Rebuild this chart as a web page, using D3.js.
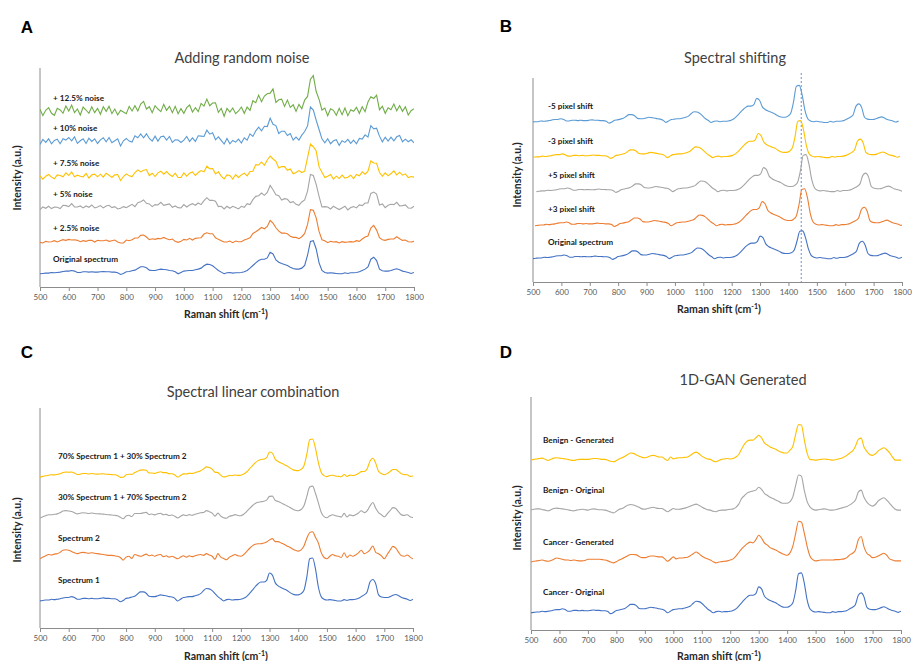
<!DOCTYPE html>
<html>
<head>
<meta charset="utf-8">
<script src="https://cdn.jsdelivr.net/npm/d3@7"></script>
<style>
  body { margin: 0; background: #fff; }
  svg text { font-family: Lato, "Open Sans", sans-serif; }
  .tick text { fill: #595959; font-size: 8px; }
  .tick line, .domain, .yline { stroke: #8c8c8c; stroke-width: 1; }
  .title { font-size: 14.5px; fill: #404040; }
  .axis-title { font-size: 10.5px; font-weight: 700; fill: #262626; }
  .series-label { font-size: 8.2px; font-weight: 700; fill: #1a1a1a; }
  .letter { font-family: "Liberation Sans", Arial, sans-serif; font-size: 17px; font-weight: 700; }
  .spectrum { fill: none; stroke-width: 1.1; }
</style>
</head>
<body>
<svg width="912" height="661"></svg>
<script>
// Raman shift grid (cm-1) and axis ticks
const ramanShift = d3.range(500, 1801, 10);
const xTicks = [500, 600, 700, 800, 900, 1000, 1100, 1200, 1300, 1400, 1500, 1600, 1700, 1800];

// original spectrum (relative intensity, main peak ~1)
const originalSpectrum = [
  -0.02,-0.01,0.00,0.00,0.02,0.01,0.02,0.03,0.05,0.06,
  0.06,0.08,0.06,0.02,0.02,0.04,0.04,0.03,0.04,0.03,
  0.03,0.04,0.05,0.04,0.04,0.03,0.03,0.01,-0.04,-0.01,
  0.04,0.05,0.07,0.09,0.14,0.19,0.19,0.16,0.09,0.08,
  0.08,0.10,0.12,0.11,0.10,0.08,0.07,0.04,-0.02,0.02,
  0.06,0.07,0.08,0.08,0.10,0.12,0.15,0.22,0.27,0.26,
  0.22,0.15,0.08,0.03,-0.02,0.01,0.02,0.00,0.01,0.01,
  0.02,0.04,0.08,0.15,0.23,0.31,0.38,0.42,0.42,0.46,
  0.63,0.58,0.40,0.33,0.29,0.26,0.23,0.18,0.14,0.12,
  0.12,0.15,0.23,0.54,0.96,0.98,0.73,0.31,0.08,0.02,
  0.00,0.01,0.00,-0.01,-0.02,-0.02,0.01,-0.01,0.01,0.01,
  0.02,0.04,0.08,0.12,0.19,0.42,0.48,0.38,0.12,0.07,
  0.06,0.06,0.08,0.11,0.13,0.10,0.06,0.04,0.02,-0.01,
  0.02
];

// panel A: noise (deviation from the original)
const noise2p5 = [
  0.01,-0.02,0.02,0.00,-0.01,0.03,-0.02,0.01,0.02,-0.01,
  0.02,-0.02,0.01,0.03,-0.01,0.00,-0.02,0.02,0.01,-0.03,
  0.02,0.00,-0.01,0.02,-0.02,0.01,0.03,-0.01,0.01,-0.02,
  0.02,-0.01,0.00,0.03,-0.02,0.01,0.02,-0.01,-0.02,0.02,
  0.00,0.01,-0.02,0.03,0.00,-0.01,0.02,-0.02,0.01,0.00,
  0.02,-0.01,0.03,-0.02,0.01,0.00,-0.02,0.02,0.01,-0.01,
  0.03,-0.02,0.00,0.01,0.02,-0.01,0.01,-0.02,0.02,0.00,
  -0.01,0.02,0.01,-0.02,0.03,0.00,-0.01,0.02,-0.02,0.01,
  0.02,-0.01,0.03,0.00,-0.02,0.01,0.02,-0.01,0.00,0.02,
  -0.02,0.01,0.03,-0.01,0.02,-0.02,0.00,0.01,-0.01,0.02,
  -0.02,0.01,0.00,0.02,-0.01,0.03,-0.02,0.01,0.00,-0.01,
  0.02,-0.02,0.01,0.03,-0.01,0.00,0.02,-0.02,0.01,0.00,
  -0.01,0.02,0.01,-0.02,0.03,0.00,-0.01,0.02,-0.01,0.01,
  0.00
];
const noise5 = [
  -0.03,0.04,-0.01,0.05,-0.04,0.02,0.00,-0.05,0.03,0.01,
  -0.02,0.05,-0.03,0.01,0.04,-0.04,0.02,-0.01,0.05,-0.03,
  0.00,0.03,-0.05,0.02,0.04,-0.02,0.01,-0.04,0.03,0.05,
  -0.03,0.01,0.04,-0.05,0.02,0.00,0.05,-0.02,0.03,-0.04,
  0.02,-0.01,0.05,-0.03,0.00,0.04,-0.05,0.02,0.03,-0.02,
  0.04,-0.04,0.01,0.05,-0.02,0.03,-0.05,0.00,0.04,-0.03,
  0.01,0.05,-0.04,0.02,-0.01,0.04,-0.03,0.05,0.00,-0.04,
  0.03,-0.02,0.05,-0.05,0.02,0.04,-0.01,0.03,-0.04,0.01,
  0.05,-0.03,0.00,0.04,-0.05,0.02,0.03,-0.02,0.05,-0.01,
  -0.04,0.03,0.01,-0.03,0.05,0.00,-0.02,0.04,-0.05,0.02,
  0.03,-0.04,0.05,0.01,-0.03,0.02,0.04,-0.05,0.00,0.03,
  -0.02,0.05,-0.01,0.03,-0.04,0.02,0.00,0.04,-0.03,0.05,
  -0.05,0.02,0.03,-0.01,0.04,-0.04,0.01,0.05,-0.02,0.00,
  0.03
];
const noise7p5 = [
  0.05,-0.06,0.02,0.07,-0.03,-0.07,0.04,0.01,-0.05,0.06,
  -0.02,0.07,-0.06,0.03,0.00,-0.04,0.06,-0.07,0.02,0.05,
  -0.03,0.04,-0.06,0.07,0.01,-0.05,0.03,0.06,-0.07,0.02,
  0.05,-0.02,-0.06,0.04,0.07,-0.04,0.01,0.06,-0.05,0.03,
  -0.07,0.02,0.05,-0.03,0.06,-0.01,-0.06,0.07,0.00,-0.04,
  0.06,-0.05,0.03,0.07,-0.06,0.01,0.04,-0.07,0.05,-0.02,
  0.03,-0.06,0.07,-0.01,-0.04,0.05,0.02,-0.07,0.06,-0.03,
  0.04,0.07,-0.05,0.01,-0.06,0.06,-0.02,0.03,-0.07,0.05,
  0.00,-0.04,0.07,-0.06,0.02,0.05,-0.03,0.06,-0.05,0.01,
  0.07,-0.02,-0.06,0.04,0.03,-0.07,0.05,-0.01,0.06,-0.04,
  0.02,0.06,-0.07,0.03,-0.03,0.07,-0.05,0.00,0.04,-0.06,
  0.05,-0.01,0.07,-0.04,-0.02,0.06,-0.06,0.03,0.01,-0.05,
  0.06,-0.03,0.02,0.07,-0.07,0.04,-0.01,0.05,-0.04,0.02,
  -0.03
];
const noise10 = [
  -0.06,0.08,-0.02,0.09,-0.08,0.03,0.06,-0.09,0.04,-0.01,
  0.07,-0.05,0.09,-0.07,0.01,0.05,-0.09,0.08,-0.03,0.06,
  -0.08,0.02,0.07,-0.04,0.09,-0.06,0.00,0.08,-0.09,0.04,
  0.06,-0.03,-0.08,0.09,-0.02,0.05,-0.07,0.08,0.01,-0.06,
  0.09,-0.08,0.03,0.06,-0.05,0.08,-0.09,0.02,0.07,-0.04,
  -0.01,0.09,-0.07,0.04,-0.09,0.06,0.02,-0.06,0.08,-0.03,
  0.05,-0.09,0.07,0.01,-0.05,0.09,-0.08,0.04,-0.02,0.07,
  -0.06,0.08,-0.03,0.09,-0.07,0.02,0.06,-0.09,0.05,0.00,
  0.08,-0.05,0.09,-0.08,0.03,0.06,-0.04,0.07,-0.09,0.02,
  -0.07,0.05,0.08,-0.06,0.09,-0.02,-0.08,0.06,0.01,-0.05,
  0.09,-0.07,0.03,0.07,-0.09,0.05,-0.03,0.08,-0.06,0.04,
  -0.08,0.06,0.00,0.09,-0.05,0.07,-0.09,0.03,0.05,-0.07,
  0.08,-0.04,0.06,-0.08,0.02,0.09,-0.06,0.04,-0.02,0.07,
  -0.05
];
const noise12p5 = [
  0.09,-0.11,0.04,0.12,-0.07,-0.12,0.08,0.02,-0.10,0.11,
  -0.04,0.12,-0.09,0.06,-0.12,0.10,0.01,-0.08,0.11,-0.06,
  0.07,-0.12,0.10,-0.03,0.12,-0.09,0.05,-0.11,0.08,0.00,
  -0.10,0.11,-0.05,0.09,-0.12,0.04,0.12,-0.08,0.06,-0.11,
  0.10,-0.02,-0.12,0.11,-0.06,0.08,-0.10,0.12,-0.04,0.07,
  -0.11,0.05,0.12,-0.09,0.02,-0.12,0.10,-0.05,0.11,-0.08,
  0.04,0.12,-0.10,0.07,-0.12,0.09,-0.03,0.11,-0.07,0.01,
  0.12,-0.09,0.06,-0.11,0.10,-0.04,0.12,-0.12,0.05,0.08,
  -0.07,0.11,-0.12,0.03,0.09,-0.10,0.12,-0.05,0.07,-0.11,
  0.10,-0.06,0.12,-0.08,0.02,0.11,-0.12,0.06,-0.03,0.09,
  -0.12,0.08,0.04,-0.10,0.12,-0.07,0.10,-0.11,0.05,0.00,
  0.11,-0.09,0.07,-0.12,0.10,0.03,-0.08,0.12,-0.06,0.09,
  -0.11,0.06,-0.02,0.12,-0.10,0.08,-0.05,0.11,-0.12,0.04,
  0.07
];
const noiseLabels = ["Original spectrum", "+ 2.5% noise", "+ 5% noise", "+ 7.5% noise", "+ 10% noise", "+ 12.5% noise"];
const noiseOffsets = [0, 0.94, 1.97, 2.91, 3.97, 4.88];

// panel B: unshifted trace as drawn there (lower main peak), shifts (cm-1), offsets
const unshiftedSpectrum = [
  -0.02,-0.01,0.00,0.00,0.02,0.01,0.02,0.03,0.05,0.06,
  0.06,0.08,0.06,0.02,0.02,0.04,0.04,0.03,0.04,0.03,
  0.03,0.04,0.05,0.04,0.04,0.03,0.03,0.01,-0.04,-0.01,
  0.04,0.05,0.07,0.09,0.14,0.19,0.19,0.16,0.09,0.08,
  0.08,0.10,0.12,0.11,0.10,0.08,0.07,0.04,-0.02,0.02,
  0.06,0.07,0.08,0.08,0.10,0.12,0.15,0.22,0.27,0.26,
  0.22,0.15,0.08,0.03,-0.02,0.01,0.02,0.00,0.01,0.01,
  0.02,0.04,0.08,0.15,0.23,0.31,0.37,0.40,0.40,0.44,
  0.59,0.55,0.38,0.31,0.27,0.24,0.21,0.17,0.13,0.12,
  0.12,0.14,0.21,0.45,0.72,0.73,0.55,0.25,0.07,0.02,
  0.00,0.01,0.00,-0.01,-0.02,-0.02,0.01,-0.01,0.01,0.01,
  0.02,0.04,0.08,0.12,0.19,0.40,0.45,0.35,0.12,0.07,
  0.06,0.06,0.08,0.11,0.13,0.10,0.06,0.04,0.02,-0.01,
  0.02
];
const shiftLabels = ["Original spectrum", "+3 pixel shift", "+5 pixel shift", "-3 pixel shift", "-5 pixel shift"];
const shiftCm = [0, 7, 12, -7, -12];
const shiftOffsets = [0, 0.89, 1.81, 2.73, 3.68];
const referencePeak = 1445;

// panel C: second spectrum and mixing fractions of spectrum 1
const spectrum2 = [
  -0.02,0.02,0.05,0.08,0.07,0.09,0.10,0.13,0.18,0.19,
  0.18,0.15,0.12,0.10,0.12,0.13,0.12,0.11,0.12,0.11,
  0.10,0.09,0.08,0.07,0.06,0.06,0.05,0.04,0.01,-0.05,
  0.02,0.04,-0.01,0.08,0.06,0.04,0.06,0.09,0.05,0.07,
  0.04,0.07,0.08,0.03,0.05,0.02,0.04,0.01,-0.02,0.02,
  0.05,0.02,0.05,0.03,0.05,0.07,0.08,0.06,0.10,0.07,
  0.04,-0.03,0.10,0.02,-0.01,-0.04,0.02,0.05,0.08,0.05,
  0.04,0.08,0.15,0.22,0.28,0.32,0.33,0.33,0.35,0.37,
  0.42,0.45,0.38,0.38,0.35,0.32,0.28,0.25,0.21,0.18,
  0.16,0.19,0.28,0.46,0.59,0.61,0.48,0.35,0.13,0.01,
  -0.02,0.04,0.08,0.05,0.04,0.01,0.12,0.01,0.07,0.04,
  0.07,0.12,0.18,0.10,0.13,0.19,0.28,0.13,0.10,0.05,
  -0.02,0.08,0.18,0.27,0.23,0.13,0.05,0.04,0.07,0.02,
  -0.02
];
const mixLabels = ["Spectrum 1", "Spectrum 2", "30% Spectrum 1 + 70% Spectrum 2", "70% Spectrum 1 + 30% Spectrum 2"];
const mixFraction1 = [1, 0, 0.3, 0.7];
const mixOffsets = [0, 0.98, 1.93, 2.88];

// panel D: GAN spectra
const cancerGenerated = [
  0.00,0.02,0.03,0.04,0.05,0.03,0.02,0.04,0.07,0.10,
  0.09,0.07,0.05,0.05,0.04,0.05,0.04,0.03,0.03,0.04,
  0.07,0.07,0.07,0.07,0.07,0.06,0.05,0.03,0.00,-0.02,
  0.01,0.05,0.08,0.12,0.16,0.19,0.19,0.18,0.14,0.11,
  0.11,0.13,0.15,0.15,0.14,0.13,0.13,0.08,0.02,0.07,
  0.13,0.08,0.10,0.10,0.11,0.12,0.16,0.21,0.25,0.21,
  0.15,0.11,0.08,0.05,0.01,-0.02,0.00,0.01,0.02,0.03,
  0.05,0.08,0.15,0.24,0.33,0.40,0.46,0.50,0.48,0.56,
  0.67,0.60,0.48,0.43,0.36,0.33,0.30,0.26,0.22,0.19,
  0.17,0.23,0.40,0.72,1.02,1.00,0.73,0.40,0.15,0.06,
  0.03,0.04,0.05,0.05,0.05,0.05,0.05,0.06,0.06,0.07,
  0.08,0.11,0.18,0.22,0.30,0.56,0.64,0.38,0.22,0.17,
  0.11,0.12,0.15,0.19,0.22,0.17,0.08,0.05,0.03,0.03,
  0.03
];
const benignOriginal = [
  0.00,0.02,0.03,0.03,0.01,0.00,-0.02,0.01,0.04,0.05,
  0.04,0.03,0.02,0.01,-0.01,-0.02,0.00,0.01,0.02,0.01,
  0.00,0.02,0.03,0.02,0.01,0.01,0.00,-0.02,-0.05,-0.07,
  -0.03,0.02,0.04,0.08,0.12,0.14,0.13,0.10,0.07,0.03,
  0.02,0.04,0.06,0.07,0.05,0.04,0.04,0.00,-0.04,0.00,
  0.04,0.02,0.02,0.03,0.05,0.07,0.10,0.13,0.15,0.12,
  0.08,0.04,0.01,0.00,-0.03,-0.04,-0.01,0.00,0.00,0.01,
  0.02,0.03,0.07,0.15,0.29,0.36,0.43,0.46,0.48,0.50,
  0.57,0.52,0.42,0.37,0.32,0.29,0.25,0.22,0.18,0.17,
  0.17,0.21,0.33,0.62,0.88,0.85,0.50,0.22,0.08,0.02,
  0.00,0.01,0.02,0.03,0.02,0.00,0.00,0.01,0.03,0.05,
  0.07,0.09,0.13,0.18,0.25,0.45,0.50,0.32,0.20,0.13,
  0.10,0.14,0.23,0.28,0.31,0.25,0.17,0.09,0.02,0.00,
  0.00
];
const benignGenerated = [
  0.00,0.02,0.03,0.04,0.05,0.02,-0.01,0.02,0.05,0.06,
  0.05,0.04,0.03,0.02,0.00,-0.01,0.01,0.02,0.02,0.02,
  0.02,0.03,0.04,0.04,0.03,0.02,0.02,0.00,-0.03,-0.04,
  -0.01,0.03,0.06,0.10,0.14,0.18,0.17,0.13,0.10,0.07,
  0.06,0.08,0.11,0.12,0.10,0.08,0.08,0.03,-0.01,0.08,
  0.03,0.05,0.06,0.06,0.07,0.08,0.12,0.17,0.20,0.16,
  0.10,0.06,0.03,0.02,-0.02,-0.04,-0.01,0.02,0.03,0.04,
  0.03,0.04,0.08,0.14,0.28,0.40,0.48,0.50,0.50,0.56,
  0.62,0.56,0.43,0.38,0.33,0.30,0.27,0.23,0.20,0.18,
  0.18,0.25,0.35,0.65,0.89,0.88,0.52,0.18,0.02,0.01,
  0.00,0.01,0.02,0.03,0.02,0.01,0.00,0.01,0.03,0.05,
  0.08,0.12,0.18,0.23,0.35,0.52,0.55,0.33,0.22,0.14,
  0.12,0.16,0.23,0.28,0.31,0.26,0.18,0.08,0.00,0.00,
  0.00
];
const ganLabels = ["Cancer - Original", "Cancer - Generated", "Benign - Original", "Benign - Generated"];
const ganOffsets = [0, 1.25, 2.55, 3.8];

// Excel office palette
const colors = ["#4472C4", "#ED7D31", "#A5A5A5", "#FFC000", "#5B9BD5", "#70AD47"];

const svg = d3.select("svg");

function drawPanel(p) {
  const x = d3.scaleLinear().domain([500, 1800]).range([p.left, p.right]);
  const y = d3.scaleLinear().domain(p.yDomain).range([p.bottom, p.top]);
  const g = svg.append("g");

  g.append("clipPath").attr("id", "clip" + p.letter)
    .append("rect")
    .attr("x", p.left).attr("y", p.top - 10)
    .attr("width", p.right - p.left).attr("height", p.bottom - p.top + 10);

  // axes
  g.append("g")
    .attr("transform", `translate(0,${p.bottom})`)
    .call(d3.axisBottom(x).tickValues(xTicks).tickFormat(d3.format("d"))
      .tickSize(4).tickSizeOuter(0).tickPadding(3));
  g.append("line").attr("class", "yline")
    .attr("x1", p.left).attr("x2", p.left)
    .attr("y1", p.top).attr("y2", p.bottom);

  const plot = g.append("g").attr("clip-path", `url(#clip${p.letter})`);

  if (p.refLine) {
    plot.append("line")
      .attr("x1", x(p.refLine)).attr("x2", x(p.refLine))
      .attr("y1", p.top - 5).attr("y2", p.bottom)
      .attr("stroke", "#4472C4").attr("stroke-width", 0.8)
      .attr("stroke-dasharray", "2,2");
  }

  const line = d3.line()
    .x((d) => x(d[0]))
    .y((d) => y(d[1]))
    .curve(p.curve || d3.curveMonotoneX);

  plot.selectAll("path.spectrum")
    .data(p.series)
    .join("path")
    .attr("class", "spectrum")
    .attr("stroke", (d) => d.color)
    .attr("d", (d) => line(d.points));

  g.selectAll("text.series-label")
    .data(p.series)
    .join("text")
    .attr("class", "series-label")
    .attr("x", p.labelX)
    .attr("y", (d) => y(d.offset) - p.labelGap)
    .attr("dy", "0.35em")
    .text((d) => d.label);

  // titles
  g.append("text").attr("class", "letter")
    .attr("x", p.letterPos[0]).attr("y", p.letterPos[1]).attr("dy", "0.35em")
    .attr("text-anchor", "middle").text(p.letter);
  g.append("text").attr("class", "title")
    .attr("x", p.titlePos[0]).attr("y", p.titlePos[1]).attr("dy", "0.35em")
    .attr("text-anchor", "middle").text(p.title);
  const xt = g.append("text").attr("class", "axis-title")
    .attr("x", p.xTitlePos[0]).attr("y", p.xTitlePos[1]).attr("dy", "0.35em")
    .attr("text-anchor", "middle");
  xt.append("tspan").text("Raman shift (cm");
  xt.append("tspan").attr("baseline-shift", "super").attr("font-size", "7px").text("-1");
  xt.append("tspan").text(")");
  g.append("text").attr("class", "axis-title")
    .attr("transform", `translate(${p.yTitlePos[0]},${p.yTitlePos[1]}) rotate(-90)`)
    .attr("dy", "0.35em")
    .attr("text-anchor", "middle").text("Intensity (a.u.)");
}

const pointsOf = (vals, offset, shift = 0) =>
  vals.map((v, i) => [ramanShift[i] + shift, v + offset]);

// A
const noisySeries = [null, noise2p5, noise5, noise7p5, noise10, noise12p5];
drawPanel({
  letter: "A", title: "Adding random noise",
  left: 40, right: 414, top: 68, bottom: 287, yDomain: [-0.42, 6.2],
  letterPos: [27, 27], titlePos: [242, 58], xTitlePos: [226, 314], yTitlePos: [17, 178],
  labelX: 53, labelGap: 14, curve: d3.curveLinear,
  series: noiseLabels.map((label, k) => ({
    label, offset: noiseOffsets[k], color: colors[k],
    points: originalSpectrum.map((v, i) => [ramanShift[i], v + (noisySeries[k] ? noisySeries[k][i] : 0) + noiseOffsets[k]])
  }))
});

// B
drawPanel({
  letter: "B", title: "Spectral shifting",
  left: 533, right: 902, top: 78, bottom: 282, yDomain: [-0.65, 4.86],
  letterPos: [506, 26], titlePos: [735, 58], xTitlePos: [719, 309], yTitlePos: [517, 175],
  labelX: 548, labelGap: 16, refLine: referencePeak,
  series: shiftLabels.map((label, k) => ({
    label, offset: shiftOffsets[k], color: colors[k],
    points: k === 0
      ? pointsOf(unshiftedSpectrum, shiftOffsets[k])
      : pointsOf(originalSpectrum, shiftOffsets[k], shiftCm[k])
  }))
});

// C
drawPanel({
  letter: "C", title: "Spectral linear combination",
  left: 40, right: 413, top: 408, bottom: 628, yDomain: [-0.65, 4.47],
  letterPos: [27, 352], titlePos: [253, 392], xTitlePos: [226, 656], yTitlePos: [17, 530],
  labelX: 58, labelGap: 20,
  series: mixLabels.map((label, k) => ({
    label, offset: mixOffsets[k], color: colors[k],
    points: originalSpectrum.map((v, i) => [ramanShift[i],
      mixFraction1[k] * v + (1 - mixFraction1[k]) * spectrum2[i] + mixOffsets[k]])
  }))
});

// D
const ganSeries = [originalSpectrum, cancerGenerated, benignOriginal, benignGenerated];
drawPanel({
  letter: "D", title: "1D-GAN Generated",
  left: 531, right: 901, top: 397, bottom: 630, yDomain: [-0.45, 5.38],
  letterPos: [506, 352], titlePos: [743, 380], xTitlePos: [719, 656], yTitlePos: [517, 518],
  labelX: 543, labelGap: 20,
  series: ganLabels.map((label, k) => ({
    label, offset: ganOffsets[k], color: colors[k],
    points: pointsOf(ganSeries[k], ganOffsets[k])
  }))
});
</script>
</body>
</html>
